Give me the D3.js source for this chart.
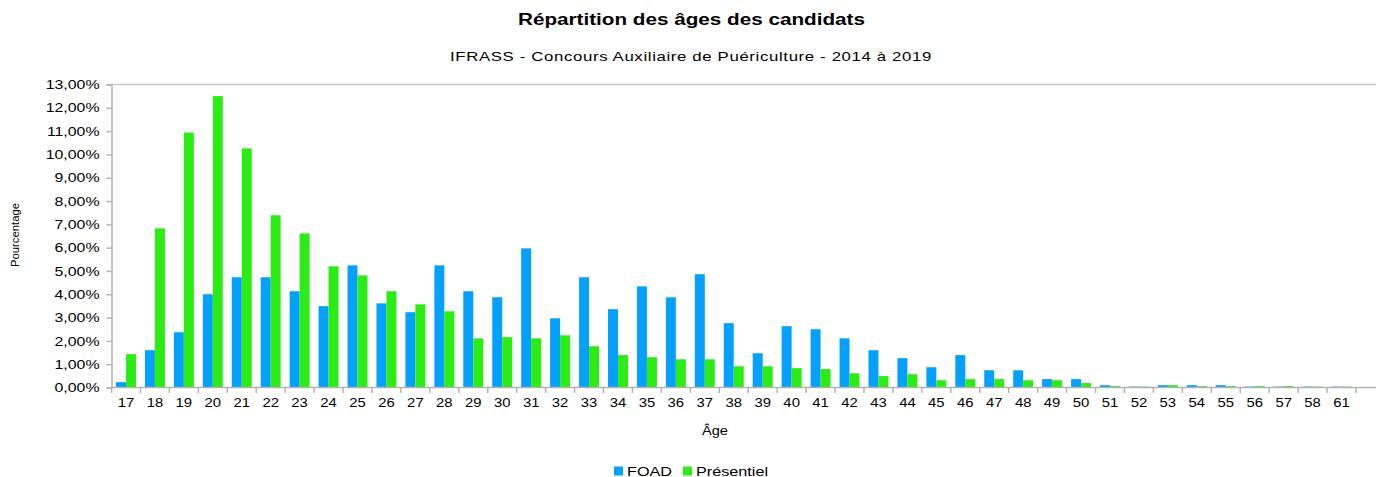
<!DOCTYPE html>
<html>
<head>
<meta charset="utf-8">
<script src="https://cdn.jsdelivr.net/npm/d3@7"></script>
<style>
  body { margin: 0; background: #fff; }
  text { font-family: "Liberation Sans", Arial, sans-serif; fill: #000; }
</style>
</head>
<body>
<svg id="chart"></svg>
<script>
const width = 1376;
const height = 477;

// Data (percent of candidates per age)
const ages = ["17","18","19","20","21","22","23","24","25","26","27","28","29","30","31","32","33","34","35","36","37","38","39","40","41","42","43","44","45","46","47","48","49","50","51","52","53","54","55","56","57","58","61"];
const foad = [0.23,1.6,2.37,4.0,4.73,4.73,4.13,3.49,5.24,3.61,3.23,5.24,4.13,3.87,5.97,2.97,4.73,3.36,4.34,3.87,4.86,2.76,1.47,2.63,2.5,2.11,1.6,1.26,0.87,1.39,0.74,0.74,0.36,0.36,0.1,0.04,0.1,0.1,0.1,0.04,0.04,0.04,0.04];
const presentiel = [1.43,6.83,10.94,12.5,10.26,7.39,6.61,5.2,4.81,4.13,3.57,3.27,2.11,2.16,2.11,2.24,1.77,1.39,1.3,1.21,1.21,0.91,0.91,0.83,0.79,0.61,0.49,0.57,0.31,0.36,0.36,0.31,0.31,0.19,0.06,0.04,0.1,0.06,0.06,0.06,0.06,0.04,0.04];
const yTicks = d3.range(0, 14, 1);
const seriesNames = ["FOAD", "Présentiel"];
const colors = ["#03a1fb", "#2bed13"];

const rows = ages.map((a, i) => ({age: a, values: [foad[i], presentiel[i]]}));

const svg = d3.select("#chart")
    .attr("width", width)
    .attr("height", height);

const x = d3.scaleBand().domain(ages).range([111.5, 1356]);
const x1 = d3.scaleBand().domain(seriesNames).range([0, x.bandwidth()]).paddingOuter(0.45);
const y = d3.scaleLinear().domain([0, 13]).range([387.5, 84.5]);

const fmt = v => d3.format(".2f")(v).replace(".", ",") + "%";

// the source text is a bit wider than Liberation Sans; stretch it
function stretch(sel, k) {
    sel.each(function () {
        const w = this.getComputedTextLength();
        d3.select(this).attr("textLength", w * k).attr("lengthAdjust", "spacingAndGlyphs");
    });
}

// top frame line reaches the right edge
svg.append("line")
    .attr("x1", 111.5).attr("x2", width)
    .attr("y1", y(13)).attr("y2", y(13))
    .attr("stroke", "#c8c8c8").attr("stroke-width", 1.5);

// bars
const groups = svg.append("g")
    .selectAll("g")
    .data(rows)
    .join("g")
    .attr("transform", d => `translate(${x(d.age)},0)`);

groups.selectAll("rect")
    .data(d => d.values.map((v, k) => ({k, v})))
    .join("rect")
    .attr("x", d => x1(seriesNames[d.k]))
    .attr("width", x1.bandwidth())
    .attr("y", d => y(d.v))
    .attr("height", d => y(0) - y(d.v))
    .attr("fill", d => colors[d.k]);

// y axis
const yAxis = svg.append("g")
    .attr("transform", "translate(111.5,0)")
    .call(d3.axisLeft(y).tickValues(yTicks).tickFormat(fmt).tickSize(5).tickPadding(7));
yAxis.select(".domain").attr("stroke", "#b3b3b3").attr("stroke-width", 1.5);
yAxis.selectAll(".tick line").attr("stroke", "#b3b3b3").attr("stroke-width", 1.5);
yAxis.selectAll(".tick text")
    .style("font-size", "13px")
    .attr("fill", "#000")
    .call(stretch, 1.22);

// x axis
const xAxis = svg.append("g")
    .attr("transform", `translate(0,${y(0)})`)
    .call(d3.axisBottom(x).tickSize(0).tickPadding(10));
xAxis.select(".domain").remove();
xAxis.selectAll(".tick text")
    .style("font-size", "13.5px")
    .attr("fill", "#000")
    .call(stretch, 1.1);

svg.append("line")
    .attr("x1", 111.5).attr("x2", width)
    .attr("y1", y(0)).attr("y2", y(0))
    .attr("stroke", "#b3b3b3").attr("stroke-width", 1.5);

// band boundary ticks
svg.append("g")
    .selectAll("line")
    .data(ages.concat(["end"]))
    .join("line")
    .attr("x1", (d, i) => x.range()[0] + i * x.step())
    .attr("x2", (d, i) => x.range()[0] + i * x.step())
    .attr("y1", y(0))
    .attr("y2", y(0) + 5.5)
    .attr("stroke", "#b3b3b3").attr("stroke-width", 1.5);

// titles
svg.append("text")
    .attr("x", 691.5).attr("y", 25)
    .attr("text-anchor", "middle")
    .attr("textLength", 347).attr("lengthAdjust", "spacingAndGlyphs")
    .style("font-size", "16px")
    .style("font-weight", "bold")
    .text("Répartition des âges des candidats");

svg.append("text")
    .attr("x", 691).attr("y", 60.5)
    .attr("text-anchor", "middle")
    .attr("textLength", 482).attr("lengthAdjust", "spacingAndGlyphs")
    .style("font-size", "13px")
    .style("letter-spacing", "0.5px")
    .text("IFRASS - Concours Auxiliaire de Puériculture - 2014 à 2019");

svg.append("text")
    .attr("transform", "translate(19,235) rotate(-90)")
    .attr("text-anchor", "middle")
    .attr("textLength", 64).attr("lengthAdjust", "spacingAndGlyphs")
    .style("font-size", "11.5px")
    .text("Pourcentage");

svg.append("text")
    .attr("x", 715).attr("y", 435)
    .attr("text-anchor", "middle")
    .attr("textLength", 26).attr("lengthAdjust", "spacingAndGlyphs")
    .style("font-size", "12px")
    .text("Âge");

// legend
const legend = svg.append("g");
const legendX = [614, 683];
const legendLen = [45, 72];
seriesNames.forEach((name, i) => {
    legend.append("rect")
        .attr("x", legendX[i]).attr("y", 466.5)
        .attr("width", 9).attr("height", 9)
        .attr("fill", colors[i]);
    legend.append("text")
        .attr("x", legendX[i] + 13).attr("y", 475.5)
        .attr("textLength", legendLen[i]).attr("lengthAdjust", "spacingAndGlyphs")
        .style("font-size", "13px")
        .text(name);
});
</script>
</body>
</html>
